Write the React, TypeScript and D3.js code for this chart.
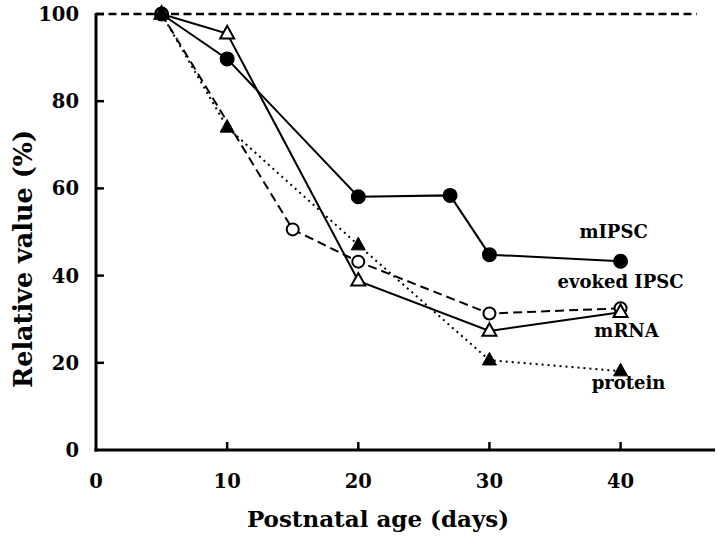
import React from "react";
import * as d3 from "d3";

const mipscX = [5, 10, 20, 27, 30, 40];
const mipscY = [100, 89.7, 58.1, 58.4, 44.8, 43.3];
const evokedX = [5, 15, 20, 30, 40];
const evokedY = [100, 50.6, 43.2, 31.3, 32.5];
const mrnaX = [5, 10, 20, 30, 40];
const mrnaY = [100, 95.5, 38.8, 27.3, 31.6];
const proteinX = [5, 10, 20, 30, 40];
const proteinY = [100, 74, 47, 20.6, 18.1];
const xTicks = [0, 10, 20, 30, 40];
const yTicks = [0, 20, 40, 60, 80, 100];
const seriesNames = ["mIPSC", "evoked IPSC", "mRNA", "protein"];

const W = 720;
const H = 542;
const FONT = "'DejaVu Serif', 'Liberation Serif', serif";

export default function App() {
  const x = d3.scaleLinear().domain([0, 47.2]).range([96, 715]);
  const y = d3.scaleLinear().domain([0, 100]).range([450, 14]);

  const mk = (xs: number[], ys: number[]) => xs.map((v, i) => [v, ys[i]] as [number, number]);
  const series = [
    { name: seriesNames[0], pts: mk(mipscX, mipscY), dash: "none", marker: "circle", fill: "#000", lx: -7, ly: -23 },
    { name: seriesNames[1], pts: mk(evokedX, evokedY), dash: "9,5", marker: "circle", fill: "#fff", lx: 0, ly: -20 },
    { name: seriesNames[2], pts: mk(mrnaX, mrnaY), dash: "none", marker: "tri", fill: "#fff", lx: 6, ly: 25 },
    { name: seriesNames[3], pts: mk(proteinX, proteinY), dash: "2,4", marker: "tri", fill: "#000", lx: 8, ly: 18 },
  ];
  const line = d3.line<[number, number]>().x((d) => x(d[0])).y((d) => y(d[1]));
  const triPath = (cx: number, cy: number, s: number) => {
    const h = s * 0.9;
    return `M${cx},${cy - h * 0.62}L${cx + s / 2},${cy + h * 0.38}L${cx - s / 2},${cy + h * 0.38}Z`;
  };

  return (
    <svg width={W} height={H} style={{ position: "absolute", left: 0, top: 0, background: "#fff" }}>
      <line x1={x(0)} x2={x(45.8)} y1={y(100)} y2={y(100)} stroke="#000" strokeWidth={2.6} strokeDasharray="8,4.5" />
      <line x1={x(0)} x2={x(0)} y1={y(100) - 1} y2={y(0) + 1.5} stroke="#000" strokeWidth={3} />
      <line x1={x(0) - 1.5} x2={x(47.2)} y1={y(0)} y2={y(0)} stroke="#000" strokeWidth={3} />
      {yTicks.filter((t) => t > 0).map((t) => (
        <line key={"yt" + t} x1={x(0)} x2={x(0) + 8} y1={y(t)} y2={y(t)} stroke="#000" strokeWidth={2.5} />
      ))}
      {xTicks.filter((t) => t > 0).map((t) => (
        <line key={"xt" + t} x1={x(t)} x2={x(t)} y1={y(0)} y2={y(0) - 8} stroke="#000" strokeWidth={2.5} />
      ))}
      {yTicks.map((t) => (
        <text key={"yl" + t} x={79} y={y(t) + 7} textAnchor="end" fontFamily={FONT} fontWeight="bold" fontSize={19.5}>
          {t}
        </text>
      ))}
      {xTicks.map((t) => (
        <text key={"xl" + t} x={x(t)} y={488} textAnchor="middle" fontFamily={FONT} fontWeight="bold" fontSize={19.5}>
          {t}
        </text>
      ))}
      <text
        transform={`translate(32, 259) rotate(-90)`}
        textAnchor="middle"
        fontFamily={FONT}
        fontWeight="bold"
        fontSize={25.5}
      >
        Relative value (%)
      </text>
      <text x={378} y={527} textAnchor="middle" fontFamily={FONT} fontWeight="bold" fontSize={23}>
        Postnatal age (days)
      </text>
      {series.map((s) => (
        <path key={"p" + s.name} d={line(s.pts) || ""} fill="none" stroke="#000" strokeWidth={2} strokeDasharray={s.dash} />
      ))}
      {series.map((s) =>
        s.pts.map((p, i) =>
          s.marker === "circle" ? (
            <circle key={s.name + i} cx={x(p[0])} cy={y(p[1])} r={s.fill === "#000" ? 6.5 : 6} fill={s.fill} stroke="#000" strokeWidth={2} />
          ) : (
            <path key={s.name + i} d={triPath(x(p[0]), y(p[1]), 14)} fill={s.fill} stroke="#000" strokeWidth={s.fill === "#000" ? 1 : 2} />
          )
        )
      )}
      {series.map((s) => {
        const last = s.pts[s.pts.length - 1];
        return (
          <text
            key={"l" + s.name}
            x={x(last[0]) + s.lx}
            y={y(last[1]) + s.ly}
            textAnchor="middle"
            fontFamily={FONT}
            fontWeight="bold"
            fontSize={18}
          >
            {s.name}
          </text>
        );
      })}
    </svg>
  );
}
